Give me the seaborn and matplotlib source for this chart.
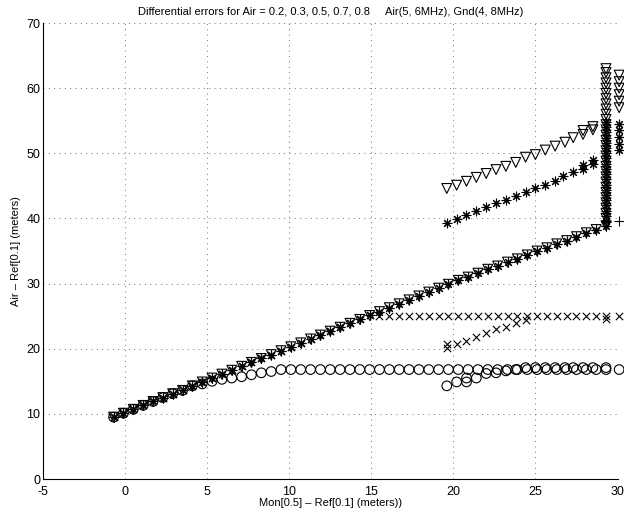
import matplotlib
matplotlib.use("Agg")
import matplotlib.pyplot as plt
from matplotlib.markers import MarkerStyle
import seaborn as sns

# main branch shared by all five Air values
x_main = [-0.7, -0.1, 0.5, 1.1, 1.7, 2.3, 2.9, 3.5, 4.1, 4.7, 5.3, 5.9, 6.5, 7.1, 7.7,
          8.3, 8.9, 9.5, 10.1, 10.7, 11.3, 11.9, 12.5, 13.1, 13.7, 14.3, 14.9, 15.5,
          16.1, 16.7, 17.3, 17.9, 18.5, 19.1, 19.7, 20.3, 20.9, 21.5, 22.1, 22.7, 23.3,
          23.9, 24.5, 25.1, 25.7, 26.3, 26.9, 27.5, 28.1, 28.7, 29.3]
y_main = [9.5, 10.1, 10.7, 11.3, 11.9, 12.5, 13.1, 13.6, 14.3, 14.9, 15.5, 16.1, 16.7,
          17.3, 17.9, 18.5, 19.1, 19.7, 20.3, 20.9, 21.5, 22.1, 22.7, 23.3, 23.9, 24.5,
          25.1, 25.7, 26.3, 26.9, 27.5, 28.1, 28.7, 29.3, 29.9, 30.5, 31.0, 31.6, 32.2,
          32.7, 33.3, 33.8, 34.4, 35.0, 35.5, 36.1, 36.6, 37.2, 37.8, 38.3, 38.9]

# Air = 0.2 (circles)
y_o = y_main[:9] + [14.6, 15.0, 15.3, 15.5, 15.7, 16.0, 16.3, 16.5] + [16.8] * 34
x_o2 = [19.6, 20.2, 20.8, 20.8, 21.4, 22.0, 22.6, 23.2, 23.8, 24.4, 25.0, 25.6, 26.2,
        26.8, 27.3, 27.9, 28.5, 29.3, 30.1]
y_o2 = [14.3, 14.9, 14.9, 15.5, 15.5, 16.2, 16.3, 16.6, 16.8, 17.1, 17.1, 17.1, 17.1,
        17.1, 17.1, 17.1, 17.1, 17.1, 16.8]

# Air = 0.3 (crosses)
y_x = y_main[:27] + [25.0] * 24
x_x2 = [19.6, 19.6, 20.2, 20.8, 21.4, 22.0, 22.6, 23.2, 23.8, 24.4, 29.3, 30.1]
y_x2 = [20.1, 20.8, 20.7, 21.2, 21.8, 22.4, 23.0, 23.3, 23.9, 24.4, 24.5, 25.0]

# Air = 0.5 (plus)
x_p2 = [29.3, 30.1]
y_p2 = [39.5, 39.6]

# Air = 0.7 (asterisks)
x_s2 = [19.6, 20.2, 20.8, 21.4, 22.0, 22.6, 23.2, 23.8, 24.4, 25.0, 25.6, 26.2, 26.7,
        27.3, 27.9, 27.9, 28.5, 28.5]
y_s2 = [39.3, 39.9, 40.6, 41.1, 41.7, 42.3, 42.9, 43.5, 44.0, 44.7, 45.2, 45.7, 46.5,
        47.1, 47.6, 48.2, 48.3, 49.0]
y_s_col = [39.6, 40.4, 41.2, 42.0, 42.8, 43.6, 44.4, 45.2, 46.0, 46.8, 47.6, 48.4, 49.2,
           50.0, 50.8, 51.6, 52.4, 53.2, 54.0, 54.8]
y_s_edge = [50.5, 51.5, 52.5, 53.5, 54.5]

# Air = 0.8 (triangles)
x_t2 = [19.6, 20.2, 20.8, 21.4, 22.0, 22.6, 23.2, 23.8, 24.4, 25.0, 25.6, 26.2, 26.8,
        27.3, 27.9, 27.9, 28.5, 28.5]
y_t2 = [44.6, 45.1, 45.7, 46.3, 46.9, 47.5, 48.0, 48.6, 49.4, 49.8, 50.5, 51.1, 51.7,
        52.4, 52.9, 53.5, 53.6, 54.1]
y_t_col = [40.0, 40.8, 41.6, 42.4, 43.2, 44.0, 44.8, 45.6, 46.4, 47.2, 48.0, 48.8, 49.6,
           50.4, 51.2, 52.0, 52.8, 53.6, 54.4, 55.2, 56.0, 56.8, 57.6, 58.4, 59.2, 60.0,
           60.8, 61.6, 62.4, 63.0]
y_t_edge = [57.0, 58.0, 59.0, 60.0, 61.0, 62.0]

sns.set_style("white")
plt.rcParams["font.family"] = ["Liberation Sans", "DejaVu Sans"]
plt.rcParams["axes.unicode_minus"] = False
for key in ["text.color", "axes.labelcolor", "xtick.color", "ytick.color"]:
    plt.rcParams[key] = "k"

fig = plt.figure(figsize=(6.24, 5.16), dpi=100)
ax = fig.add_axes([43 / 624, 37 / 516, 574.5 / 624, 456 / 516])

ring = MarkerStyle("o", fillstyle="none")
tri = MarkerStyle("v", fillstyle="none")
star = (8, 2, 0)

def pts(xs, ys, marker, s):
    sns.scatterplot(x=xs, y=ys, marker=marker, s=s, color="k", linewidth=0.8,
                    ax=ax, zorder=3, legend=False, clip_on=False)

pts(x_main, y_o, ring, 48)
pts(x_o2, y_o2, ring, 48)
pts(x_main, y_x, "x", 28)
pts(x_x2, y_x2, "x", 28)
pts(x_main, y_main, "+", 50)
pts(x_p2, y_p2, "+", 50)
pts(x_main, y_main, star, 40)
pts(x_s2, y_s2, star, 40)
pts([29.3] * len(y_s_col), y_s_col, star, 40)
pts([30.1] * len(y_s_edge), y_s_edge, star, 40)
pts(x_main, y_main, tri, 50)
pts(x_t2, y_t2, tri, 50)
pts([29.3] * len(y_t_col), y_t_col, tri, 50)
pts([30.1] * len(y_t_edge), y_t_edge, tri, 50)

ax.set_xlim(-5, 30)
ax.set_ylim(0, 70)
ax.set_xticks(range(-5, 31, 5))
ax.set_yticks(range(0, 71, 10))
ax.grid(True, color="0.45", linestyle=(0, (1, 4.5)), linewidth=0.7)
ax.tick_params(direction="in", length=4, labelsize=9, color="k", pad=2)
ax.tick_params(axis="x", pad=5)
sns.despine(ax=ax)
for sp in ax.spines.values():
    sp.set_color("k")
    sp.set_linewidth(0.8)

ax.set_title("Differential errors for Air = 0.2, 0.3, 0.5, 0.7, 0.8     Air(5, 6MHz), Gnd(4, 8MHz)",
             fontsize=8, pad=6)
ax.set_xlabel("Mon[0.5] \u2013 Ref[0.1] (meters))", fontsize=8, labelpad=0)
ax.set_ylabel("Air \u2013 Ref[0.1] (meters)", fontsize=8, labelpad=4)

fig.savefig("out.png", dpi=100)
